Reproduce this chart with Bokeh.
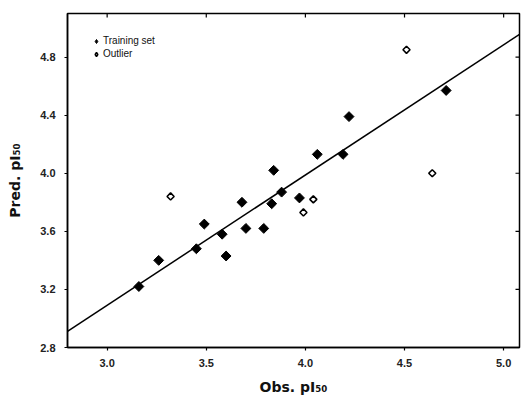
import math
from bokeh.plotting import figure
from bokeh.models import Range1d, FixedTicker, Legend, LegendItem, NumeralTickFormatter
from bokeh.embed import file_html
from bokeh.resources import INLINE

# Training set
train_obs = [3.16, 3.26, 3.45, 3.49, 3.58, 3.60, 3.68, 3.70, 3.79, 3.83, 3.84, 3.88, 3.97, 4.06, 4.19, 4.22, 4.71]
train_pred = [3.22, 3.40, 3.48, 3.65, 3.58, 3.43, 3.80, 3.62, 3.62, 3.79, 4.02, 3.87, 3.83, 4.13, 4.13, 4.39, 4.57]
# Outliers
out_obs = [3.32, 3.99, 4.04, 4.51, 4.64]
out_pred = [3.84, 3.73, 3.82, 4.85, 4.00]
# Regression line
slope = 0.897
intercept = 0.40
x_ticks = [3.0, 3.5, 4.0, 4.5, 5.0]
y_ticks = [2.8, 3.2, 3.6, 4.0, 4.4, 4.8]
x_title, y_title = "Obs. pI₅₀", "Pred. pI₅₀"

XMIN, XMAX = 2.80, 5.08
YMIN, YMAX = 2.80, 5.10

FW, FH = 452, 334
TICK_PX = 4
p = figure(width=521, height=400, output_backend="svg", toolbar_location=None,
           x_range=Range1d(XMIN, XMAX), y_range=Range1d(YMIN, YMAX),
           frame_width=FW, frame_height=FH,
           min_border_left=67, min_border_top=13, min_border_bottom=53, min_border_right=2,
           x_axis_label=x_title, y_axis_label=y_title)
p.xgrid.visible = False
p.ygrid.visible = False
p.outline_line_color = "black"
p.outline_line_width = 1.5
p.background_fill_color = "white"
p.border_fill_color = "white"

p.xaxis.ticker = FixedTicker(ticks=x_ticks)
p.yaxis.ticker = FixedTicker(ticks=y_ticks)
for ax in (p.xaxis[0], p.yaxis[0]):
    ax.formatter = NumeralTickFormatter(format="0.0")
    ax.axis_line_color = "black"
    ax.axis_line_width = 1.5
    ax.major_tick_line_color = "black"
    ax.major_tick_line_width = 1.2
    ax.major_tick_in = 0
    ax.major_tick_out = 3
    ax.minor_tick_line_color = None
    ax.major_label_text_font = "Liberation Sans"
    ax.major_label_text_font_size = "11px"
    ax.major_label_text_font_style = "bold"
    ax.major_label_text_color = "#222222"
    ax.axis_label_text_font = "DejaVu Sans"
    ax.axis_label_text_font_size = "14px"
    ax.axis_label_text_font_style = "bold"
    ax.axis_label_text_color = "#111111"
p.xaxis.major_label_standoff = 8
p.yaxis.major_label_standoff = 9
p.xaxis.axis_label_standoff = 9
p.yaxis.axis_label_standoff = 14

# inward ticks on top and right edges
ty = TICK_PX * (YMAX - YMIN) / FH
tx = TICK_PX * (XMAX - XMIN) / FW
p.segment(x0=x_ticks, x1=x_ticks, y0=[YMAX] * len(x_ticks), y1=[YMAX - ty] * len(x_ticks),
          line_color="black", line_width=1.2)
p.segment(x0=[XMAX] * len(y_ticks), x1=[XMAX - tx] * len(y_ticks), y0=y_ticks, y1=y_ticks,
          line_color="black", line_width=1.2)

p.line([XMIN, XMAX], [intercept + slope * XMIN, intercept + slope * XMAX],
       line_color="black", line_width=1.5)

p.scatter(train_obs, train_pred, marker="square", angle=math.pi / 4, size=7,
          fill_color="black", line_color="black", line_width=1)
p.scatter(out_obs, out_pred, marker="square", angle=math.pi / 4, size=5,
          fill_color="white", line_color="black", line_width=1.6)

# legend proxies (not drawn in the plot area)
nan = float("nan")
l1 = p.scatter([nan], [nan], marker="diamond", size=10, fill_color="black", line_color="black")
l2 = p.scatter([nan], [nan], marker="diamond", size=8, fill_color="white", line_color="black", line_width=1.5)
legend = Legend(items=[LegendItem(label="Training set", renderers=[l1]),
                       LegendItem(label="Outlier", renderers=[l2])],
                location=(24, FH - 21 - 25), border_line_color=None, background_fill_alpha=0,
                label_text_font="Liberation Sans", label_text_font_size="10px",
                label_text_color="#111111",
                label_height=10, glyph_height=10, glyph_width=10, spacing=2,
                margin=0, padding=0, label_standoff=2)
p.add_layout(legend)

open("out.html", "w").write(file_html(p, INLINE))
